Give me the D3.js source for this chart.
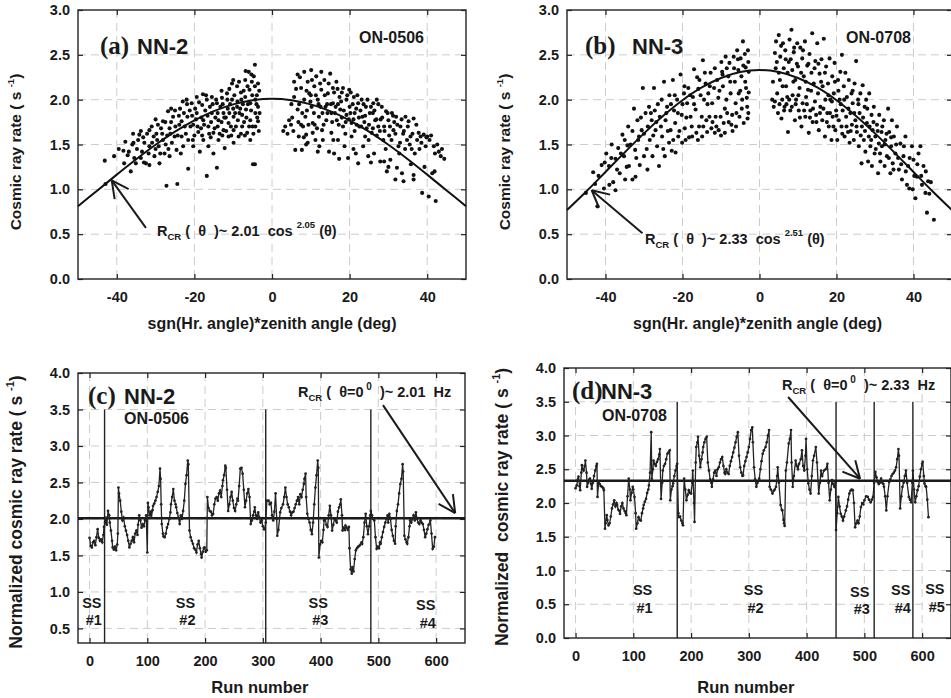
<!DOCTYPE html>
<html><head><meta charset="utf-8">
<script src="https://cdn.jsdelivr.net/npm/d3@7"></script>
<style>
body{margin:0;background:#fff}
text{font-family:"Liberation Sans",Arial,Helvetica,sans-serif;font-weight:bold;fill:#1a1a1a}
text.serif{font-family:"Liberation Serif","Times New Roman",serif}
</style>
</head><body>
<svg id="c" width="951" height="698"></svg>
<script>
// ---------------- DATA ----------------
const angleTicks = [-40, -20, 0, 20, 40];
const rateTicksAB = [0.0, 0.5, 1.0, 1.5, 2.0, 2.5, 3.0];
const rateTicksC = [0.5, 1.0, 1.5, 2.0, 2.5, 3.0, 3.5, 4.0];
const rateTicksD = [0.0, 0.5, 1.0, 1.5, 2.0, 2.5, 3.0, 3.5, 4.0];
const runTicks = [0, 100, 200, 300, 400, 500, 600];

const fitAmp = [2.01, 2.33];     // R_CR(0) for NN-2, NN-3
const fitExp = [2.05, 2.51];     // cos exponent for NN-2, NN-3
const fitAngles = [-50,-45,-40,-35,-30,-25,-20,-15,-10,-5,0,5,10,15,20,25,30,35,40,45,50];

// NN-2 (ON-0506): [sgn(HA)*zenith angle, rate]
const scatterNN2 = [
[-43.1,1.32],[-40.7,1.37],[-42.9,1.06],[-38.3,1.43],[-37.8,1.53],[-38.1,1.29],[-36.4,1.20],[-35.7,1.52],[-35.1,1.29],[-34.2,1.61],[-33.8,1.35],[-32.9,1.52],[-32.5,1.29],[-31.6,1.66],[-31.6,1.48],[-31.6,1.27],[-30.5,1.59],[-30.3,1.37],[-29.4,1.72],[-29.2,1.48],[-29.0,1.29],[-28.1,1.76],[-28.1,1.55],[-27.7,1.40],[-27.2,1.04],[-26.8,1.87],[-26.4,1.68],[-26.4,1.37],[-25.5,1.81],[-25.1,1.59],[-24.6,1.44],[-24.4,1.06],[-23.7,1.90],[-23.3,1.76],[-23.3,1.59],[-22.9,1.48],[-22.0,2.00],[-21.8,1.81],[-21.6,1.55],[-21.6,1.23],[-20.7,1.96],[-20.3,1.72],[-20.3,1.48],[-19.4,2.03],[-19.4,1.85],[-19.0,1.64],[-18.6,1.42],[-18.0,1.94],[-17.7,1.77],[-17.7,1.55],[-16.8,2.00],[-16.8,1.15],[-16.4,1.70],[-16.4,1.48],[-15.5,2.03],[-15.5,1.85],[-15.1,1.63],[-15.1,1.40],[-14.2,1.24],[-14.2,1.96],[-13.8,1.77],[-13.8,1.55],[-12.9,2.02],[-12.5,1.85],[-12.5,1.66],[-12.2,1.46],[-11.6,2.07],[-11.4,1.90],[-11.2,1.74],[-11.2,1.59],[-10.3,2.18],[-10.3,2.00],[-9.9,1.81],[-9.9,1.66],[-9.9,1.52],[-9.0,2.15],[-9.0,1.92],[-8.8,1.77],[-8.6,1.59],[-7.9,2.00],[-7.7,1.83],[-7.7,1.70],[-6.9,2.22],[-6.9,2.03],[-6.7,1.89],[-6.4,1.63],[-6.0,2.31],[-5.8,2.11],[-5.6,1.96],[-5.6,1.77],[-5.6,1.55],[-4.9,1.28],[-4.4,1.28],[-4.7,2.26],[-4.4,2.39],[-4.4,2.15],[-4.3,2.00],[-4.3,1.85],[-4.3,1.70],[-3.6,2.18],[-3.6,1.92],[-3.6,1.76],[-3.4,1.65],
[-36.9,1.42],[-34.8,1.45],[-33.2,1.58],[-30.9,1.52],[-29.8,1.62],[-28.6,1.68],[-27.0,1.60],[-26.0,1.75],[-24.9,1.70],[-24.0,1.82],[-22.5,1.70],[-21.2,1.88],[-20.0,1.60],[-19.6,1.78],[-18.3,1.68],[-17.2,1.88],[-16.0,1.92],[-15.8,1.58],[-14.6,1.80],[-14.0,1.70],[-13.3,1.92],[-12.8,1.60],[-11.9,1.80],[-10.8,1.95],[-10.6,1.70],[-9.5,1.85],[-8.2,1.90],[-8.0,1.62],[-7.3,2.10],[-7.2,1.75],[-6.2,1.95],[-5.2,2.20],[-5.0,1.70],[-3.9,2.05],[-3.2,1.85],
[-39.5,1.45],[-37.2,1.38],[-36.0,1.50],[-35.5,1.35],[-34.5,1.55],[-33.5,1.42],[-33.0,1.30],[-32.2,1.62],[-31.8,1.40],[-31.0,1.70],[-30.0,1.45],[-29.6,1.55],[-28.8,1.40],[-28.3,1.62],[-27.5,1.75],[-27.4,1.50],[-26.7,1.45],[-26.2,1.62],[-25.8,1.52],[-25.0,1.88],[-24.3,1.60],[-23.9,1.72],[-23.5,1.40],[-22.7,1.85],[-22.2,1.62],[-21.9,1.95],[-21.0,1.70],[-20.6,1.82],[-20.4,1.55],[-19.8,1.90],[-19.2,1.70],[-18.8,1.97],[-18.2,1.80],[-18.0,1.60],[-17.5,1.72],[-17.0,2.05],[-16.6,1.82],[-16.2,1.62],[-15.7,1.75],[-15.3,1.95],[-14.8,1.68],[-14.4,2.00],[-14.0,1.85],[-13.5,1.62],[-13.0,1.75],[-12.7,1.95],[-12.3,1.80],[-11.8,1.65],[-11.5,2.00],[-11.0,1.85],[-10.5,1.60],[-10.0,1.90],[-9.7,2.05],[-9.3,1.70],[-8.9,1.98],[-8.4,1.85],[-8.0,2.08],[-7.5,1.95],[-7.0,1.60],[-6.6,1.80],[-6.3,2.15],[-5.9,1.70],[-5.4,1.88],[-5.1,2.05],[-4.8,1.62],[-4.0,1.95],[-3.8,1.80],[-3.3,2.10],[-6.8,2.32],[-5.3,2.28],[-8.5,2.20],[-10.0,2.22],[-11.0,2.12],[-13.0,2.10],[-17.8,2.06],[-23.0,1.98],[-26.0,1.90],[-30.0,1.78],[-33.8,1.65],[-35.8,1.62],
[2.9,1.65],[3.4,1.70],[4.4,1.77],[4.9,1.72],[5.7,2.20],[5.7,2.03],[6.0,1.44],[6.6,2.28],[6.6,1.89],[6.9,1.59],[7.5,2.13],[7.5,1.72],[7.7,1.44],[8.3,2.31],[8.3,2.00],[8.6,1.81],[8.8,1.61],[9.2,2.20],[9.2,1.52],[9.6,2.07],[10.1,2.33],[10.2,1.92],[10.5,1.74],[10.5,1.63],[10.9,2.15],[11.2,1.55],[11.4,2.26],[11.8,2.00],[12.1,1.81],[12.2,1.48],[12.7,2.31],[12.7,2.11],[12.9,1.66],[13.1,1.55],[13.5,2.22],[13.8,1.92],[14.0,1.77],[14.4,2.07],[14.7,1.42],[15.0,2.29],[15.3,1.85],[15.3,1.63],[15.7,2.13],[15.7,1.96],[16.6,2.20],[16.7,1.77],[17.0,1.55],[17.3,1.34],[17.4,2.03],[17.6,1.89],[18.3,2.13],[18.3,1.70],[18.7,1.48],[19.2,2.00],[19.2,1.83],[19.6,1.35],[19.9,2.11],[20.0,1.92],[20.5,1.74],[20.5,1.59],[21.1,2.03],[21.3,1.85],[21.6,1.40],[22.2,1.29],[22.2,1.96],[22.5,1.70],[23.1,2.00],[23.3,1.81],[23.5,1.48],[24.0,1.59],[24.2,1.92],[24.4,1.68],[24.8,1.37],[25.2,1.85],[25.7,1.63],[26.1,1.96],[26.3,1.40],[26.6,1.77],[27.0,2.00],[27.4,1.70],[27.9,1.31],[28.3,1.92],[28.7,1.55],[28.9,1.31],[29.4,1.87],[29.6,1.20],[30.0,1.77],[30.5,1.33],[30.9,1.85],[31.3,1.66],[31.8,1.11],[32.0,1.81],[32.2,1.24],[32.6,1.48],[33.1,1.70],[33.5,1.18],[33.9,1.09],[34.4,1.81],[34.8,1.55],[35.2,1.76],[35.7,1.59],[36.5,1.16],[36.5,1.11],[36.5,1.79],[37.4,1.55],[37.8,1.63],[38.3,1.59],[38.7,0.96],[39.1,1.61],[39.6,1.48],[40.0,1.59],[40.4,0.92],[41.3,1.18],[41.7,1.48],[42.2,0.87],[43.0,1.42],[43.5,1.37],[44.4,1.34],[42.6,1.50],
[5.2,1.80],[7.0,1.95],[8.0,1.70],[9.0,1.88],[10.0,2.05],[11.0,1.72],[12.0,1.95],[13.0,1.85],[14.2,1.95],[15.5,1.75],[16.2,1.85],[17.0,1.95],[18.0,1.80],[19.0,1.75],[20.2,1.85],[21.0,1.78],[21.8,1.72],[22.8,1.88],[23.8,1.75],[25.0,1.72],[26.0,1.85],[27.0,1.60],[28.0,1.78],[29.0,1.65],[30.2,1.60],[31.5,1.75],[33.0,1.52],[34.0,1.65],[36.0,1.45],[38.0,1.45],[39.8,1.58],
[4.0,1.62],[5.0,1.95],[5.5,1.65],[6.2,2.12],[6.8,1.75],[7.2,2.25],[7.8,1.85],[8.2,1.58],[8.9,2.10],[9.4,1.72],[9.9,1.98],[10.3,2.22],[10.8,1.85],[11.3,2.05],[11.6,1.68],[12.4,2.18],[12.5,1.92],[13.3,1.72],[13.6,2.05],[14.3,1.85],[14.6,2.18],[15.2,1.95],[15.8,1.55],[16.0,2.08],[16.4,1.92],[16.9,2.12],[17.2,1.72],[17.8,1.98],[18.0,2.08],[18.5,1.88],[18.9,1.62],[19.4,2.05],[19.8,1.78],[20.3,2.08],[20.8,1.95],[21.3,1.65],[21.7,1.90],[22.0,2.05],[22.4,1.80],[23.0,1.70],[23.6,1.95],[24.0,1.82],[24.6,2.00],[24.9,1.55],[25.5,1.92],[26.0,1.68],[26.4,1.88],[26.9,1.78],[27.4,1.95],[27.8,1.65],[28.4,1.80],[28.9,1.70],[29.3,1.45],[29.8,1.85],[30.4,1.70],[30.8,1.55],[31.2,1.82],[31.8,1.62],[32.3,1.72],[32.8,1.40],[33.4,1.78],[33.8,1.62],[34.3,1.45],[35.0,1.70],[35.5,1.50],[36.2,1.62],[36.8,1.40],[37.2,1.72],[38.5,1.52],[39.3,1.25],[40.6,1.55],[41.0,1.60],[41.9,1.20],[43.8,1.45],[42.0,1.40],[35.8,1.28],[30.0,1.25],[25.5,1.30],[21.0,1.45],[16.0,1.40],[11.8,1.42],[8.8,1.50]
];

// NN-3 (ON-0708)
const scatterNN3 = [
[-45.1,0.96],[-43.2,1.19],[-42.1,0.81],[-42.7,1.06],[-41.0,1.27],[-40.4,1.01],[-39.8,1.40],[-39.1,1.26],[-38.4,1.50],[-38.0,1.08],[-37.4,0.99],[-37.4,1.34],[-36.7,1.46],[-36.3,1.18],[-35.6,1.61],[-35.2,1.37],[-34.9,1.11],[-34.3,1.49],[-34.1,1.70],[-33.9,1.26],[-33.0,1.11],[-32.6,1.90],[-32.3,1.44],[-32.2,1.14],[-31.7,1.77],[-31.3,1.59],[-31.1,1.27],[-30.6,1.66],[-30.3,2.13],[-30.0,1.37],[-29.6,1.85],[-29.1,1.22],[-28.7,1.92],[-28.5,1.55],[-28.0,1.77],[-27.8,1.37],[-27.4,2.13],[-27.2,1.88],[-27.0,1.66],[-26.6,1.48],[-26.1,1.26],[-25.9,1.81],[-25.4,2.00],[-25.3,1.59],[-24.8,2.20],[-24.6,1.37],[-24.4,1.77],[-24.0,1.92],[-23.5,1.52],[-23.4,2.05],[-23.1,1.66],[-22.8,1.43],[-22.5,2.22],[-22.2,1.88],[-21.9,1.74],[-21.8,1.41],[-21.4,2.00],[-21.1,1.59],[-20.5,2.28],[-20.2,1.83],[-20.1,1.52],[-19.6,2.07],[-19.4,1.68],[-19.2,1.55],[-18.8,1.96],[-18.5,2.13],[-18.3,1.58],[-17.9,1.81],[-17.5,1.59],[-17.3,2.03],[-17.0,2.34],[-16.6,1.89],[-16.4,1.63],[-15.9,2.12],[-15.7,1.70],[-15.6,2.22],[-15.0,1.81],[-14.9,1.59],[-14.7,2.44],[-14.4,2.00],[-14.0,2.18],[-13.8,1.77],[-13.6,1.64],[-13.3,2.07],[-13.0,1.81],[-12.7,2.30],[-12.5,1.68],[-12.3,1.96],[-11.8,2.13],[-11.6,1.63],[-11.4,1.81],[-11.0,2.22],[-10.7,2.02],[-10.6,1.66],[-10.1,1.81],[-9.9,2.42],[-9.7,2.31],[-9.5,2.15],[-9.3,1.74],[-9.0,1.63],[-8.8,2.48],[-8.6,2.00],[-8.4,1.85],[-8.1,2.26],[-7.8,2.41],[-7.5,2.07],[-7.3,1.72],[-7.1,1.83],[-6.7,2.48],[-6.4,2.20],[-6.2,1.96],[-6.1,1.70],[-5.8,2.55],[-5.5,2.33],[-5.4,2.07],[-5.2,1.81],[-4.9,2.46],[-4.7,2.26],[-4.5,2.00],[-4.3,2.65],[-4.1,1.74],[-3.8,2.51],[-3.6,2.36],[-3.5,2.13],[-3.2,1.92],[-3.1,1.79],[-2.9,2.42],[-2.8,2.31],
[-41.8,1.15],[-40.2,1.30],[-39.0,1.05],[-38.5,1.35],[-37.0,1.22],[-36.0,1.40],[-35.0,1.55],[-34.5,1.25],[-33.5,1.50],[-33.0,1.65],[-32.0,1.35],[-31.5,1.55],[-30.8,1.80],[-30.0,1.62],[-29.3,1.45],[-29.0,1.70],[-28.2,1.85],[-27.6,1.60],[-26.8,1.75],[-26.4,1.95],[-25.6,1.70],[-25.0,1.45],[-24.2,1.85],[-23.8,1.65],[-23.0,1.95],[-22.4,1.55],[-22.0,2.05],[-21.2,1.85],[-20.8,1.65],[-20.0,1.95],[-19.5,2.15],[-19.0,1.80],[-18.0,2.05],[-17.6,1.70],[-17.0,1.95],[-16.2,2.25],[-16.0,1.55],[-15.3,2.05],[-14.6,1.70],[-14.2,2.30],[-13.5,1.95],[-12.9,2.15],[-12.2,1.75],[-11.6,2.35],[-11.2,1.70],[-10.4,2.10],[-10.0,1.60],[-9.6,2.28],[-9.0,1.90],[-8.5,2.35],[-8.0,1.75],[-7.6,2.20],[-7.0,1.65],[-6.6,2.35],[-6.0,1.85],[-5.6,2.45],[-5.0,2.10],[-4.6,1.90],[-4.2,2.38],[-3.7,2.20],[-3.3,2.02],[-3.0,2.55],[-2.9,1.85],[-2.8,2.08],
[3.3,2.00],[3.7,1.92],[4.0,2.52],[4.2,2.35],[4.3,2.65],[4.6,2.07],[4.8,1.85],[5.0,2.72],[5.3,2.22],[5.4,2.48],[5.7,1.79],[5.9,2.00],[6.1,2.63],[6.3,2.35],[6.5,1.92],[6.7,2.55],[6.9,2.15],[7.2,2.03],[7.4,1.64],[7.6,2.42],[7.8,2.67],[8.0,1.88],[8.3,2.78],[8.5,2.33],[8.6,2.05],[8.9,2.53],[9.2,1.77],[9.3,2.22],[9.5,2.00],[9.8,2.63],[10.0,2.37],[10.2,1.88],[10.4,2.13],[10.6,2.58],[10.9,1.70],[11.1,2.46],[11.2,1.96],[11.5,2.26],[11.8,2.65],[11.9,1.81],[12.1,2.03],[12.4,2.38],[12.6,2.11],[12.8,1.63],[13.0,2.51],[13.2,1.88],[13.5,2.30],[13.7,2.74],[13.8,1.75],[14.1,2.18],[14.4,1.98],[14.5,2.43],[14.7,1.83],[15.0,2.63],[15.2,2.07],[15.4,1.66],[15.6,2.29],[15.8,1.92],[16.1,2.45],[16.3,1.77],[16.4,2.15],[16.7,2.68],[17.0,1.59],[17.1,2.00],[17.3,2.37],[17.6,1.85],[17.8,2.18],[18.0,1.70],[18.2,2.46],[18.4,2.00],[18.7,1.55],[18.9,2.26],[19.0,1.81],[19.3,2.07],[19.5,2.41],[19.7,1.66],[19.9,1.88],[20.2,1.55],[20.4,2.22],[20.6,1.77],[20.8,2.00],[21.0,2.31],[21.3,1.70],[21.4,2.50],[21.6,1.88],[21.9,2.15],[22.1,1.59],[22.3,2.30],[22.5,1.81],[22.7,2.03],[23.0,1.64],[23.2,2.22],[23.4,1.52],[23.6,1.85],[23.9,2.07],[24.0,1.72],[24.2,1.96],[24.5,1.55],[24.7,2.18],[24.9,1.77],[25.1,2.43],[25.3,1.64],[25.6,2.00],[25.8,1.48],[26.0,1.85],[26.2,2.07],[26.5,1.29],[26.6,1.70],[26.8,2.16],[27.1,1.55],[27.3,1.92],[27.5,1.42],[27.7,2.00],[27.9,1.74],[28.2,1.31],[28.4,1.59],[28.5,2.07],[28.8,1.48],[29.1,1.83],[29.2,1.26],[29.4,1.66],[29.7,1.92],[29.9,1.40],[30.1,1.59],[30.5,1.72],[30.8,1.18],[31.0,1.51],[31.1,1.83],[31.4,1.31],[31.7,1.64],[31.8,1.48],[32.3,1.77],[32.5,1.26],[32.7,1.55],[33.1,1.37],[33.4,1.90],[33.7,1.64],[34.0,1.18],[34.2,1.48],[34.4,1.77],[34.6,1.29],[34.9,1.59],[35.3,1.40],[35.7,1.70],[36.2,1.22],[36.6,1.51],[37.0,1.11],[37.4,1.37],[37.9,1.59],[38.3,1.05],[38.6,1.26],[38.9,1.01],[39.6,1.48],[39.8,1.00],[40.0,1.33],[40.5,0.90],[40.9,1.14],[41.3,1.40],[41.8,1.48],[42.2,1.05],[42.6,1.26],[43.1,0.96],[43.5,0.74],[43.8,1.09],[44.1,0.95],[45.3,0.66],
[3.5,2.20],[4.0,1.98],[4.5,2.42],[5.0,2.30],[5.2,1.95],[5.6,2.60],[6.0,2.15],[6.4,1.88],[6.8,2.45],[7.0,1.95],[7.3,2.30],[7.7,2.00],[8.1,2.45],[8.4,1.92],[8.8,2.20],[9.0,2.58],[9.4,1.95],[9.7,2.40],[10.1,2.05],[10.5,1.80],[10.8,2.30],[11.3,2.55],[11.6,1.88],[12.0,2.20],[12.3,1.95],[12.7,2.40],[13.1,1.80],[13.4,2.10],[13.9,1.90],[14.3,2.35],[14.8,1.75],[15.3,2.40],[15.7,1.85],[16.0,2.20],[16.6,1.90],[17.0,2.30],[17.5,1.75],[17.9,2.05],[18.3,1.85],[18.8,1.98],[19.2,1.70],[19.6,2.20],[20.0,1.82],[20.5,2.10],[21.1,1.95],[21.5,1.62],[22.0,2.00],[22.6,1.70],[23.1,1.90],[23.7,1.65],[24.2,2.10],[24.6,1.85],[25.2,1.70],[25.7,1.95],[26.3,1.60],[26.9,1.80],[27.4,1.65],[28.0,1.90],[28.6,1.70],[29.0,1.55],[29.6,1.75],[30.2,1.45],[30.7,1.65],[31.3,1.40],[31.9,1.70],[32.5,1.50],[33.0,1.62],[33.6,1.35],[34.2,1.58],[34.8,1.22],[35.5,1.50],[36.0,1.35],[36.8,1.28],[37.5,1.48],[38.0,1.20],[39.0,1.35],[40.2,1.15],[41.0,1.28],[42.0,1.15],[43.2,1.20],[44.5,1.08]
];

// Time series: [run number, normalized rate]
const seriesNN2 = [
[0,1.74],[2,1.63],[4,1.61],[6,1.68],[8,1.70],[10,1.64],[12,1.75],[14,1.86],[16,1.74],[18,1.70],[20,1.72],[22,1.68],[24,1.78],[25,1.89],[27,1.95],[28,2.02],[30,1.92],[32,2.11],[34,2.05],[35,1.95],[37,1.84],[39,1.70],[40,1.61],[42,1.58],[44,1.62],[46,1.57],[48,1.65],[49,1.80],[50,2.43],[51,2.35],[53,2.25],[55,2.10],[57,1.98],[59,2.02],[61,1.90],[63,1.84],[65,1.78],[67,1.70],[69,1.61],[71,1.66],[73,1.70],[75,1.75],[77,1.68],[79,1.80],[81,1.84],[83,1.78],[84,1.92],[86,2.05],[88,1.98],[90,1.88],[92,1.93],[94,1.90],[96,1.98],[98,2.05],[100,1.54],[101,2.22],[102,2.16],[104,2.05],[106,2.10],[107,2.02],[109,2.12],[110,2.18],[112,2.21],[114,2.25],[116,2.30],[118,2.37],[120,2.45],[122,2.69],[123,2.55],[124,2.20],[125,1.93],[127,1.80],[128,1.76],[130,1.75],[132,1.80],[134,1.88],[136,1.93],[138,2.00],[140,2.09],[141,2.20],[143,2.30],[145,2.41],[147,2.25],[149,2.20],[150,2.16],[152,2.08],[154,2.02],[156,1.93],[158,2.05],[160,2.00],[162,2.11],[164,2.25],[166,2.48],[168,2.60],[170,2.80],[171,2.75],[173,1.84],[175,1.75],[177,1.70],[179,1.66],[181,1.60],[183,1.58],[185,1.54],[187,1.65],[189,1.70],[191,1.60],[193,1.52],[194,1.47],[196,1.55],[198,1.60],[199,1.61],[201,1.55],[203,1.57],[204,2.30],[206,2.15],[208,2.11],[210,2.10],[212,2.05],[214,2.07],[216,2.20],[218,2.28],[220,2.30],[222,2.25],[224,2.35],[226,2.39],[228,2.30],[230,2.45],[231,2.53],[233,2.60],[235,2.73],[236,2.70],[238,2.40],[240,2.11],[242,2.20],[244,2.30],[246,2.37],[248,2.25],[250,2.15],[252,2.11],[254,2.20],[256,2.28],[257,2.25],[259,2.45],[261,2.69],[263,2.70],[265,2.62],[267,2.40],[269,2.16],[271,2.25],[273,2.35],[275,2.41],[277,2.30],[279,1.93],[281,1.98],[283,2.05],[285,2.10],[286,2.16],[288,2.05],[290,2.00],[292,2.09],[294,2.02],[296,1.95],[298,1.98],[300,1.90],[302,1.86],[303,1.86],[305,1.95],[307,2.25],[310,2.25],[312,2.20],[314,2.22],[316,2.05],[318,1.98],[320,2.10],[322,2.35],[324,2.00],[325,1.77],[327,1.85],[330,2.09],[332,2.15],[335,2.20],[337,2.30],[339,2.43],[341,2.30],[343,2.20],[345,2.16],[347,2.10],[349,2.05],[351,2.09],[353,2.10],[355,2.15],[357,2.20],[359,2.25],[361,2.30],[363,2.20],[365,2.34],[367,2.30],[369,2.40],[371,2.48],[372,2.55],[374,2.62],[375,2.30],[377,2.07],[379,2.00],[381,1.95],[383,1.85],[385,1.79],[387,1.95],[389,2.20],[391,2.43],[393,2.60],[395,2.80],[396,2.70],[397,1.47],[399,1.65],[401,1.70],[403,1.68],[405,1.85],[406,1.98],[408,2.00],[410,1.92],[412,1.89],[414,2.05],[416,2.18],[418,2.05],[420,1.84],[422,1.92],[424,2.00],[426,1.98],[428,1.95],[430,2.10],[432,2.16],[434,2.20],[435,2.27],[437,2.05],[438,1.84],[440,1.88],[442,1.85],[443,1.91],[445,1.88],[447,1.85],[449,1.89],[450,1.60],[452,1.31],[454,1.25],[455,1.34],[457,1.28],[459,1.45],[461,1.57],[463,1.60],[465,1.62],[467,1.63],[469,1.65],[471,1.68],[472,1.66],[474,1.75],[476,1.95],[478,2.07],[480,1.90],[482,1.79],[484,1.90],[486,2.05],[487,2.11],[489,2.05],[491,2.00],[493,1.98],[495,1.75],[497,1.59],[499,1.62],[501,1.60],[503,1.68],[504,1.66],[506,1.75],[508,1.82],[510,1.89],[512,1.95],[514,2.00],[516,2.05],[517,1.95],[519,2.07],[521,2.00],[523,1.85],[525,1.77],[527,1.70],[529,1.66],[530,1.90],[532,2.11],[534,2.20],[536,2.35],[538,2.48],[540,2.55],[542,2.75],[543,2.65],[545,1.77],[547,1.72],[549,1.68],[550,1.66],[552,1.75],[554,1.90],[555,1.98],[557,1.95],[559,2.00],[561,2.05],[563,1.98],[565,2.09],[567,2.00],[569,1.95],[571,1.93],[573,1.98],[575,1.95],[577,1.93],[579,1.85],[581,1.75],[583,1.80],[585,1.86],[587,1.92],[590,1.98],[592,1.80],[594,1.59],[596,1.62],[598,1.75]
];

const seriesNN3 = [
[0,2.22],[2,2.26],[4,2.35],[5,2.39],[7,2.25],[8,2.19],[10,2.45],[11,2.56],[13,2.50],[14,2.48],[16,2.55],[17,2.63],[19,2.45],[20,2.24],[22,2.30],[24,2.35],[25,2.36],[27,2.28],[28,2.21],[30,2.30],[32,2.40],[34,2.48],[36,2.55],[37,2.58],[38,2.09],[40,2.31],[42,2.28],[44,2.25],[46,2.24],[48,2.22],[49,2.19],[51,1.62],[52,1.70],[54,1.82],[55,1.75],[57,1.67],[59,1.70],[61,1.80],[63,1.92],[65,1.98],[67,2.04],[69,1.95],[71,2.00],[72,1.97],[74,1.90],[76,1.88],[77,1.84],[79,1.95],[81,2.00],[83,1.92],[85,1.88],[87,1.85],[88,1.82],[90,2.10],[92,2.36],[94,2.20],[95,2.04],[97,2.15],[99,2.24],[100,2.20],[102,2.09],[104,1.85],[105,1.62],[107,1.70],[109,1.79],[111,1.75],[113,1.74],[115,1.85],[117,1.92],[118,1.97],[120,2.02],[122,2.06],[124,2.15],[126,2.20],[127,2.26],[129,2.45],[131,3.05],[132,2.36],[134,2.50],[135,2.63],[137,2.58],[139,2.55],[141,2.61],[143,2.65],[145,2.72],[146,2.80],[148,2.06],[150,2.30],[151,2.48],[153,2.55],[155,2.58],[157,2.65],[159,2.73],[161,2.75],[163,2.78],[164,2.04],[166,2.20],[168,2.25],[169,2.29],[171,2.40],[173,2.48],[175,2.55],[176,2.58],[178,1.85],[179,1.79],[181,1.80],[183,1.74],[185,1.70],[186,1.67],[188,2.36],[190,2.20],[192,2.04],[194,2.12],[196,2.19],[198,2.15],[200,2.14],[202,2.30],[203,2.48],[205,2.00],[206,1.72],[208,2.60],[209,2.83],[211,2.90],[212,2.98],[214,2.70],[216,2.53],[218,2.65],[220,2.75],[221,2.83],[223,2.90],[225,2.95],[227,2.98],[229,2.60],[231,2.48],[233,2.35],[235,2.30],[236,2.24],[238,2.35],[240,2.45],[242,2.48],[244,2.40],[246,2.50],[248,2.53],[250,2.60],[252,2.65],[254,2.68],[256,2.55],[258,2.45],[259,2.43],[261,2.50],[263,2.45],[265,2.43],[267,2.55],[269,2.62],[271,2.68],[273,2.75],[275,2.82],[277,2.90],[279,2.98],[281,3.05],[283,2.70],[285,2.53],[287,2.45],[289,2.40],[290,2.41],[292,2.55],[294,2.62],[296,2.68],[298,2.75],[300,2.83],[302,2.95],[304,3.08],[306,3.12],[307,2.90],[309,2.53],[311,2.35],[313,2.24],[315,2.30],[318,2.36],[320,2.50],[322,2.62],[324,2.73],[326,2.78],[329,2.83],[331,2.90],[333,3.00],[335,3.08],[336,2.24],[338,2.20],[341,2.14],[343,2.18],[345,2.20],[347,2.24],[349,2.40],[350,2.53],[352,2.30],[355,1.97],[357,1.90],[358,1.89],[360,1.75],[361,1.70],[362,1.66],[364,2.48],[366,2.60],[369,2.88],[371,2.95],[373,3.08],[374,2.60],[376,2.24],[378,2.40],[381,2.63],[383,2.55],[385,2.50],[387,2.58],[390,2.65],[392,2.78],[394,2.55],[396,2.48],[398,2.70],[399,2.95],[401,2.50],[403,2.29],[405,2.20],[407,2.14],[409,2.40],[411,2.63],[413,2.70],[416,2.83],[418,2.60],[421,2.14],[423,2.30],[425,2.48],[427,2.40],[430,2.48],[433,2.50],[436,2.58],[438,2.30],[440,2.04],[442,2.20],[444,2.34],[446,2.28],[448,2.24],[450,2.30],[451,1.60],[453,1.85],[455,2.09],[457,1.95],[459,1.84],[461,1.80],[463,1.74],[465,1.80],[468,1.89],[470,1.95],[472,2.05],[474,2.14],[476,2.18],[478,2.20],[480,2.19],[482,2.00],[484,1.64],[486,1.70],[488,1.74],[490,1.70],[492,1.80],[494,1.94],[496,2.00],[498,1.98],[500,2.04],[503,2.10],[506,2.09],[508,2.05],[511,2.01],[513,2.05],[515,2.09],[517,2.30],[519,2.46],[521,2.38],[523,2.31],[525,2.28],[527,2.30],[529,2.36],[531,2.30],[533,2.28],[534,2.24],[536,2.10],[538,1.89],[540,2.10],[543,2.31],[545,2.35],[547,2.40],[549,2.43],[551,2.45],[553,2.48],[555,2.53],[557,2.65],[559,2.80],[560,2.70],[562,1.92],[564,2.10],[566,2.24],[568,2.30],[570,2.40],[572,2.48],[574,2.30],[577,2.09],[579,2.05],[581,2.01],[583,2.30],[584,2.48],[586,2.20],[588,2.01],[590,2.10],[592,2.19],[594,2.25],[596,2.39],[598,2.50],[600,2.58],[601,2.61],[603,2.40],[604,2.29],[606,2.25],[607,2.24],[609,2.05],[611,1.79]
];

const ssBoundNN2 = [26, 305, 487];
const ssBoundNN3 = [176, 451, 517, 584];
const ssLabelsNN2 = ["#1", "#2", "#3", "#4"];
const ssLabelRunsNN2 = [4, 166, 396, 582];
const ssLabelsNN3 = ["#1", "#2", "#3", "#4", "#5"];
const ssLabelRunsNN3 = [116, 308, 492, 563, 622];

// ---------------- DRAWING ----------------
const svg = d3.select("#c");
const GRID = "#cccccc";

function makePanel(o) {
  const g = svg.append("g");
  const x = d3.scaleLinear().domain(o.xDom).range([o.left, o.right]);
  const y = d3.scaleLinear().domain(o.yDom).range([o.bottom, o.top]);
  const inX = o.xTicks.filter(t => t > o.xDom[0] && t < o.xDom[1]);
  const inY = o.yTicks.filter(t => t > o.yDom[0] && t < o.yDom[1]);
  g.append("g").selectAll("line").data(inX).join("line")
    .attr("x1", d => x(d)).attr("x2", d => x(d)).attr("y1", o.top).attr("y2", o.bottom)
    .attr("stroke", GRID).attr("stroke-width", 1).attr("stroke-dasharray", "8,5");
  g.append("g").selectAll("line").data(inY).join("line")
    .attr("y1", d => y(d)).attr("y2", d => y(d)).attr("x1", o.left).attr("x2", o.right)
    .attr("stroke", GRID).attr("stroke-width", 1).attr("stroke-dasharray", "8,5");

  const fmtX = d => String(d);
  const fmtY = d => d.toFixed(1);
  const ax = [
    [d3.axisBottom(x).tickValues(o.xTicks).tickFormat(fmtX), `translate(0,${o.bottom})`],
    [d3.axisTop(x).tickValues(o.xTicks).tickFormat(""), `translate(0,${o.top})`],
    [d3.axisLeft(y).tickValues(o.yTicks).tickFormat(fmtY), `translate(${o.left},0)`],
    [d3.axisRight(y).tickValues(o.yTicks).tickFormat(""), `translate(${o.right},0)`]
  ];
  ax.forEach(([a, tr], i) => {
    const ag = g.append("g").attr("transform", tr)
      .call(a.tickSizeInner(-5).tickSizeOuter(0).tickPadding(i === 0 ? 13 : 8));
    ag.select(".domain").remove();
    ag.selectAll(".tick line").attr("stroke", "#222").attr("stroke-width", 1.2);
    ag.selectAll(".tick text").attr("font-size", 14.5).attr("fill", "#1a1a1a");
  });
  g.append("rect").attr("x", o.left).attr("y", o.top)
    .attr("width", o.right - o.left).attr("height", o.bottom - o.top)
    .attr("fill", "none").attr("stroke", "#222").attr("stroke-width", 1.4);
  return {g, x, y};
}

function arrow(g, x1, y1, x2, y2, sw) {
  g.append("line").attr("x1", x1).attr("y1", y1).attr("x2", x2).attr("y2", y2)
    .attr("stroke", "#1a1a1a").attr("stroke-width", sw);
  const ang = Math.atan2(y1 - y2, x1 - x2);
  [-0.47, 0.47].forEach(s => {
    g.append("line").attr("x1", x2).attr("y1", y2)
      .attr("x2", x2 + 19 * Math.cos(ang + s)).attr("y2", y2 + 19 * Math.sin(ang + s))
      .attr("stroke", "#1a1a1a").attr("stroke-width", sw);
  });
}

function yLabel(g, cx, cy, txt, size) {
  const t = g.append("text").attr("transform", `translate(${cx},${cy}) rotate(-90)`)
    .attr("text-anchor", "middle").attr("font-size", size);
  t.append("tspan").text(txt + "( s ");
  t.append("tspan").attr("font-size", size * 0.62).attr("dy", -size * 0.45).text("-1");
  t.append("tspan").attr("dy", size * 0.45).text(")");
}

function fitLabel(g, px, py, amp, ex) {
  const t = g.append("text").attr("x", px).attr("y", py).attr("font-size", 14.5).attr("xml:space", "preserve");
  t.append("tspan").text("R");
  t.append("tspan").attr("font-size", 9.5).attr("dy", 4).text("CR");
  t.append("tspan").attr("dy", -4).text(" (  θ  )~ " + amp.toFixed(2) + "  cos ");
  t.append("tspan").attr("font-size", 9.5).attr("dy", -8).text(ex.toFixed(2));
  t.append("tspan").attr("dy", 8).text(" (θ)");
}
function refLabel(g, px, py, amp) {
  const t = g.append("text").attr("x", px).attr("y", py).attr("font-size", 14.5).attr("xml:space", "preserve");
  t.append("tspan").text("R");
  t.append("tspan").attr("font-size", 9.5).attr("dy", 4).text("CR");
  t.append("tspan").attr("dy", -4).text(" (  θ=0");
  t.append("tspan").attr("font-size", 10).attr("dy", -7).text(" 0");
  t.append("tspan").attr("dy", 7).text("  )~ " + amp.toFixed(2) + "  Hz");
}

// ---------- Panel (a) and (b): scatter ----------
function scatterPanel(idx, data, left, right, tag, tagX, name, nameX, onLabel, onX, arrowPts, labelPos) {
  const P = makePanel({left, right, top: 10, bottom: 279, xDom: [-50, 50], yDom: [0, 3],
    xTicks: angleTicks, yTicks: rateTicksAB});
  const {g, x, y} = P;
  g.append("g").selectAll("circle").data(data).join("circle")
    .attr("cx", d => x(d[0])).attr("cy", d => y(d[1])).attr("r", 2.05).attr("fill", "#111");
  const curve = d3.line().x(d => x(d)).y(d => y(fitAmp[idx] * Math.pow(Math.cos(d * Math.PI / 180), fitExp[idx])))
    .curve(d3.curveCatmullRom);
  g.append("path").datum(fitAngles).attr("d", curve).attr("fill", "none")
    .attr("stroke", "#111").attr("stroke-width", 2);
  g.append("text").attr("class", "serif").attr("x", tagX).attr("y", 54).attr("font-size", 25).text(tag);
  g.append("text").attr("x", nameX).attr("y", 54).attr("font-size", 22).text(name);
  g.append("text").attr("x", onX).attr("y", 43).attr("font-size", 16).text(onLabel);
  arrow(g, x(arrowPts[0]), y(arrowPts[1]), x(arrowPts[2]), y(arrowPts[3]), 2);
  fitLabel(g, labelPos[0], labelPos[1], fitAmp[idx], fitExp[idx]);
  yLabel(g, left - 57, 152, "Cosmic ray rate ", 15.5);
  g.append("text").attr("x", (left + Math.min(right, 952)) / 2 + (idx ? -2 : 0)).attr("y", 329)
    .attr("text-anchor", "middle").attr("font-size", 16).text("sgn(Hr. angle)*zenith angle (deg)");
}
scatterPanel(0, scatterNN2, 78, 466, "(a)", 100, "NN-2", 137, "ON-0506", 359, [-32.5, 0.57, -41.3, 1.10], [157, 236]);
scatterPanel(1, scatterNN3, 567, 952, "(b)", 585, "NN-3", 632, "ON-0708", 846, [-30.4, 0.51, -43.6, 0.99], [645, 244]);

// ---------- Panel (c) and (d): time series ----------
function seriesPanel(idx, data, left, right, top, bottom, yDom, yTicks, bounds, ssRuns, ssText, tagTxt, onLabel, arrowPts, refPos, ssY) {
  const P = makePanel({left, right, top, bottom, xDom: [-20, 650], yDom, xTicks: runTicks, yTicks});
  const {g, x, y} = P;
  g.append("g").selectAll("line").data(bounds).join("line")
    .attr("x1", d => x(d)).attr("x2", d => x(d)).attr("y1", y(3.5)).attr("y2", bottom)
    .attr("stroke", "#222").attr("stroke-width", 1.4);
  g.append("line").attr("x1", left).attr("x2", right).attr("y1", y(fitAmp[idx])).attr("y2", y(fitAmp[idx]))
    .attr("stroke", "#1a1a1a").attr("stroke-width", 2.6);
  const ln = d3.line().x(d => x(d[0])).y(d => y(d[1]));
  g.append("path").datum(data).attr("d", ln).attr("fill", "none").attr("stroke", "#222").attr("stroke-width", 1.3);
  g.append("g").selectAll("circle").data(data).join("circle")
    .attr("cx", d => x(d[0])).attr("cy", d => y(d[1])).attr("r", 1.35).attr("fill", "#222");
  // labels
  g.append("text").attr("class", "serif").attr("x", tagTxt[2]).attr("y", tagTxt[4]).attr("font-size", 25).text(tagTxt[0]);
  g.append("text").attr("x", tagTxt[3]).attr("y", tagTxt[4]).attr("font-size", 22).text(tagTxt[1]);
  g.append("text").attr("x", onLabel[1]).attr("y", onLabel[2]).attr("font-size", 16).text(onLabel[0]);
  refLabel(g, refPos[0], refPos[1], fitAmp[idx]);
  arrow(g, x(arrowPts[0]), y(arrowPts[1]), x(arrowPts[2]), y(arrowPts[3]), 2);
  ssRuns.forEach((r, i) => {
    g.append("text").attr("x", x(r)).attr("y", ssY[i][0]).attr("text-anchor", "middle").attr("font-size", 14.5).text("SS");
    g.append("text").attr("x", x(r) + 2).attr("y", ssY[i][1]).attr("text-anchor", "middle").attr("font-size", 14.5).text(ssText[i]);
  });
  const t = g.append("text").attr("transform", `translate(${left - 56},${(top + bottom) / 2 + 4}) rotate(-90)`)
    .attr("text-anchor", "middle").attr("font-size", 17.5).attr("xml:space", "preserve");
  t.append("tspan").text(idx ? "Normalized  cosmic ray rate ( s " : "Normalized cosmic ray rate ( s ");
  t.append("tspan").attr("font-size", 11).attr("dy", -8).text("-1");
  t.append("tspan").attr("dy", 8).text(")");
  g.append("text").attr("x", x(300) - 3).attr("y", 693).attr("text-anchor", "middle").attr("font-size", 16.5).text("Run number");
}
seriesPanel(0, seriesNN2, 78, 465, 373, 643, [0.3, 4.0], rateTicksC, ssBoundNN2, ssLabelRunsNN2, ssLabelsNN2,
  ["(c)", "NN-2", 88, 124, 404], ["ON-0506", 124, 424], [508, 3.56, 633, 2.08], [298, 397],
  [[608, 625], [608, 625], [608, 625], [610, 628]]);
seriesPanel(1, seriesNN3, 564, 951, 368, 638, [0, 4], rateTicksD, ssBoundNN3, ssLabelRunsNN3, ssLabelsNN3,
  ["(d)", "NN-3", 572, 601, 399], ["ON-0708", 602, 421], [368, 3.57, 492.5, 2.36], [782, 390],
  [[595, 613], [595, 613], [597, 614], [595, 613], [594, 612]]);
</script>
</body></html>
